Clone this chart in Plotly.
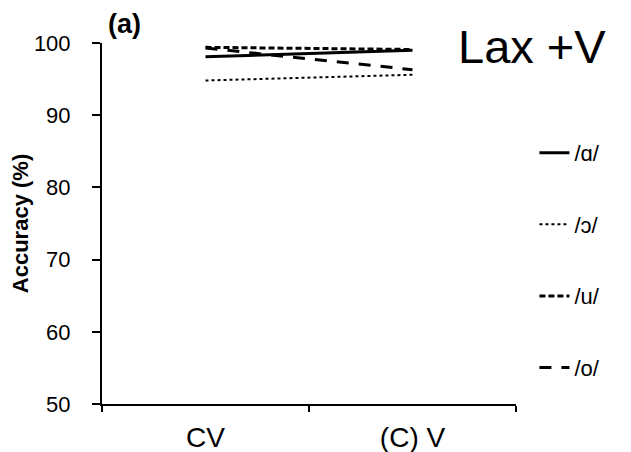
import plotly.graph_objects as go

categories = ["CV", "(C) V"]
series_names = ["/ɑ/", "/ɔ/", "/u/", "/o/"]
vals_a = [98.1, 99.0]
vals_open_o = [94.8, 95.6]
vals_u = [99.4, 99.1]
vals_o = [99.3, 96.3]
y_ticks = [50, 60, 70, 80, 90, 100]

series = [vals_a, vals_open_o, vals_u, vals_o]
dashes = ["solid", "dot", "6px,3px", "12px,10px"]
widths = [3, 2, 3, 3]

fig = go.Figure()
for name, vals, d, w in zip(series_names, series, dashes, widths):
    fig.add_trace(go.Scatter(
        x=categories, y=vals, mode="lines", name=name, legendgroup=name,
        line=dict(color="black", width=w, dash=d),
    ))

font_family = "Liberation Sans, Arial, sans-serif"
fig.update_layout(
    width=623, height=444,
    margin=dict(l=94, r=115, t=35, b=48, autoexpand=False),
    paper_bgcolor="white", plot_bgcolor="white",
    font=dict(family=font_family, color="black"),
    showlegend=True,
    legend=dict(x=0.845, xref="container", xanchor="left", y=0.721, yref="container",
                yanchor="top", maxheight=1.0,
                font=dict(size=22), tracegroupgap=40, traceorder="grouped",
                itemwidth=30, bgcolor="rgba(0,0,0,0)"),
    xaxis=dict(
        type="category", range=[-0.5, 1.5], showline=True, linecolor="black", linewidth=2,
        ticks="outside", tickson="boundaries", ticklen=6, tickwidth=2, tickcolor="black",
        showgrid=False, zeroline=False, tickfont=dict(size=28), ticklabelstandoff=7,
        automargin=False,
    ),
    yaxis=dict(
        range=[50, 100], tickvals=y_ticks, showline=True, linecolor="black", linewidth=2,
        ticks="outside", ticklen=8, tickwidth=2, tickcolor="black", showgrid=False,
        zeroline=False, tickfont=dict(size=22), ticklabelstandoff=17, automargin=False,
        title=dict(text="<b>Accuracy (%)</b>", font=dict(size=22), standoff=6),
    ),
    annotations=[
        dict(text="<b>(a)</b>", x=0.0, y=1.0, xref="paper", yref="paper", xanchor="left",
             yanchor="bottom", xshift=4, yshift=2, showarrow=False,
             font=dict(size=27, family=font_family)),
        dict(text="Lax +V", x=1.0, y=1.0, xref="paper", yref="paper", xanchor="left",
             yanchor="middle", xshift=-60, yshift=-3, showarrow=False,
             font=dict(size=47, family=font_family)),
    ],
)

fig.write_html("out.html")
